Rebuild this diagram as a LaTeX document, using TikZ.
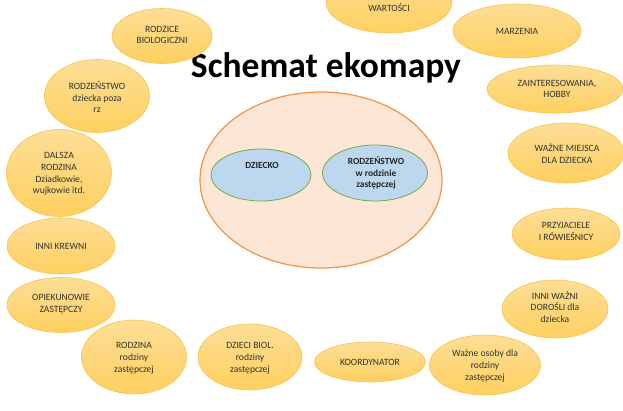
\documentclass[tikz,border=0pt]{standalone}
\usepackage{fontspec}
\setmainfont{Carlito}
\usetikzlibrary{shapes.geometric}
\definecolor{ytop}{RGB}{253,222,150}
\definecolor{ybot}{RGB}{255,208,96}
\definecolor{yedge}{RGB}{246,196,80}
\definecolor{bigfill}{RGB}{252,230,214}
\definecolor{bigedge}{RGB}{244,146,70}
\definecolor{bluefill}{RGB}{189,215,238}
\definecolor{greenedge}{RGB}{112,173,71}
\definecolor{txt}{RGB}{50,50,50}
\tikzset{
  yell/.style={ellipse, draw=yedge, line width=0.6pt, top color=ytop, bottom color=ybot, inner sep=0pt},
  ytext/.style={align=center, text=txt, font=\fontsize{9.6}{11.8}\selectfont, inner sep=0pt},
  inner/.style={ellipse, draw=greenedge, line width=0.8pt, fill=bluefill, inner sep=0pt},
  itext/.style={align=center, text=black!85, font=\fontsize{9.4}{11.2}\selectfont\bfseries, inner sep=0pt},
}
\begin{document}
\begin{tikzpicture}[x=1pt,y=-1pt]
\useasboundingbox (0,0) rectangle (623,411);
\clip (0,0) rectangle (623,411);
% big ellipse
\node[ellipse, draw=bigedge, line width=1.2pt, fill=bigfill, minimum width=242pt, minimum height=176pt, inner sep=0pt] (big) at (321,180) {};
\node[inner, minimum width=100pt, minimum height=52pt] (dz) at (261,175) {};
\node[itext] (dzt) at (262,165) {DZIECKO};
\node[inner, minimum width=105pt, minimum height=56pt] (rw) at (375,173) {};
\node[itext] (rwt) at (376,173) {RODZEŃSTWO\\w rodzinie\\zastępczej};
% title
\node[anchor=base, font=\fontsize{35.5}{36}\selectfont\bfseries, inner sep=0pt] (title) at (326,78) {Schemat ekomapy};
% yellow ellipses
\node[yell, minimum width=126pt, minimum height=62pt] (war) at (389,2) {};
\node[ytext] (wart) at (389,8) {WARTOŚCI};
\node[yell, minimum width=100pt, minimum height=55pt] (rb) at (162,36) {};
\node[ytext] (rbt) at (162,35) {RODZICE\\BIOLOGICZNI};
\node[yell, minimum width=128pt, minimum height=54pt] (mz) at (517,31) {};
\node[ytext] (mzt) at (517,31) {MARZENIA};
\node[yell, minimum width=136pt, minimum height=48pt] (zh) at (555,89) {};
\node[ytext] (zht) at (557,89) {ZAINTERESOWANIA,\\HOBBY};
\node[yell, minimum width=116pt, minimum height=60pt] (wm) at (566,153) {};
\node[ytext] (wmt) at (567,153.5) {WAŻNE MIEJSCA\\DLA DZIECKA};
\node[yell, minimum width=108pt, minimum height=52pt] (pr) at (566,234) {};
\node[ytext] (prt) at (566,231.5) {PRZYJACIELE\\I RÓWIEŚNICY};
\node[yell, minimum width=106pt, minimum height=58pt] (id) at (555,309) {};
\node[ytext] (idt) at (555,307) {INNI WAŻNI\\DOROŚLI dla\\dziecka};
\node[yell, minimum width=111pt, minimum height=60pt] (wo) at (485,365) {};
\node[ytext] (wot) at (485,366) {Ważne osoby dla\\rodziny\\zastępczej};
\node[yell, minimum width=111pt, minimum height=40pt] (ko) at (370,362) {};
\node[ytext] (kot) at (370,362) {KOORDYNATOR};
\node[yell, minimum width=104pt, minimum height=66pt] (db) at (250,357) {};
\node[ytext] (dbt) at (250,358) {DZIECI BIOL.\\rodziny\\zastępczej};
\node[yell, minimum width=105pt, minimum height=74pt] (rz) at (134,357) {};
\node[ytext] (rzt) at (134,358) {RODZINA\\rodziny\\zastępczej};
\node[yell, minimum width=108pt, minimum height=55pt] (op) at (61,305) {};
\node[ytext] (opt) at (61,304.5) {OPIEKUNOWIE\\ZASTĘPCZY};
\node[yell, minimum width=108pt, minimum height=56pt] (ik) at (61,246) {};
\node[ytext] (ikt) at (61,246) {INNI KREWNI};
\node[yell, minimum width=105pt, minimum height=87pt] (dr) at (59,173) {};
\node[ytext] (drt) at (59,174) {DALSZA\\RODZINA\\Dziadkowie,\\wujkowie itd.};
\node[yell, minimum width=105pt, minimum height=73pt] (rp) at (97,96) {};
\node[ytext] (rpt) at (97,97) {RODZEŃSTWO\\dziecka poza\\rz};
\end{tikzpicture}
\end{document}
